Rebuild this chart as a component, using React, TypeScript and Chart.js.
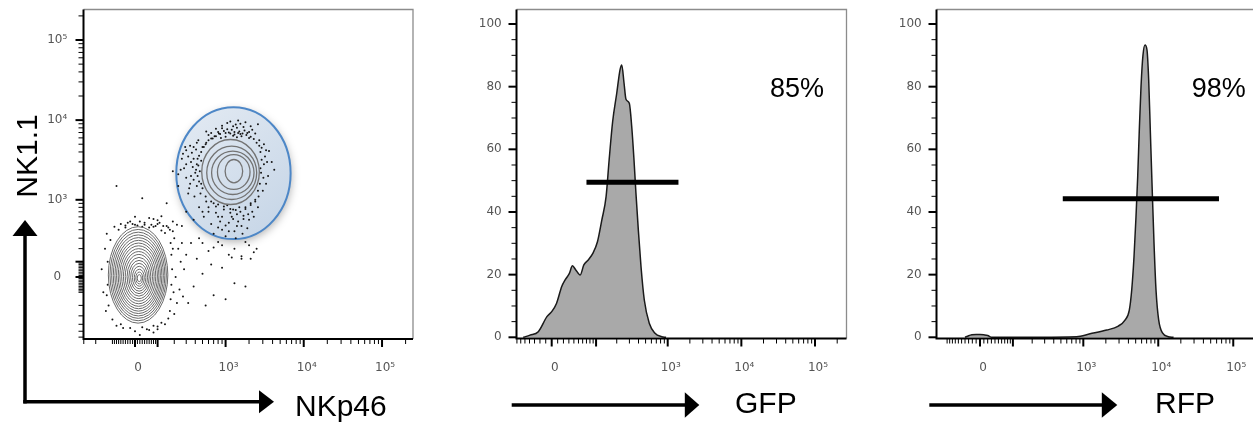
import { useEffect, useRef } from 'react';
import { Chart, registerables } from 'chart.js';
Chart.register(...registerables);

// ---------- display transform widths (biexponential-like axes) ----------
const W_NK_X = 140;
const W_NK_Y = 220;
const W_GFP = 53.3;
const W_RFP = 84;
const T = (v: number, w: number) => Math.asinh(v / w) / Math.LN10;

// ---------- tick values / labels ----------
const decadeValues = [0, 1000, 10000, 100000];
const decadeLabels = ['0', '10³', '10⁴', '10⁵'];
const minorTickValues = [
  -900, -800, -700, -600, -500, -400, -300, -200, -100,
  -90, -80, -70, -60, -50, -40, -30, -20, -10,
  10, 20, 30, 40, 50, 60, 70, 80, 90,
  100, 200, 300, 400, 500, 600, 700, 800, 900,
  2000, 3000, 4000, 5000, 6000, 7000, 8000, 9000,
  20000, 30000, 40000, 50000, 60000, 70000, 80000, 90000,
  200000,
];
const pctTickValues = [0, 5, 10, 15, 20, 25, 30, 35, 40, 45, 50, 55, 60, 65, 70, 75, 80, 85, 90, 95, 100];
const pctMajor = [0, 20, 40, 60, 80, 100];

// ---------- panel 1: NKp46 (x) vs NK1.1 (y) ----------
const nkGateX = [215, 6800];
const nkGateY = [290, 14500];
const nkPosCenter = [1210, 2245];
// contour rings: [half-width, half-height, dx, dy] in axis decades
const nkPosRings = [
  [0.368, 0.406, -0.019, 0.0],
  [0.319, 0.333, -0.004, -0.01],
  [0.271, 0.271, 0.01, -0.01],
  [0.208, 0.218, 0.022, 0.0],
  [0.112, 0.146, 0.024, 0.01],
];
const nkNegCenter = [16, 3];
const nkNegRings = [
  [0.380, 0.602, -0.010, 0.020],
  [0.360, 0.570, -0.009, 0.018],
  [0.340, 0.538, -0.008, 0.016],
  [0.320, 0.506, -0.007, 0.014],
  [0.300, 0.474, -0.006, 0.012],
  [0.280, 0.442, -0.005, 0.010],
  [0.260, 0.410, -0.004, 0.008],
  [0.240, 0.378, -0.003, 0.006],
  [0.218, 0.344, -0.002, 0.004],
  [0.196, 0.310, -0.001, 0.002],
  [0.174, 0.276, 0.000, 0.000],
  [0.152, 0.242, 0.001, -0.003],
  [0.130, 0.208, 0.002, -0.006],
  [0.108, 0.174, 0.003, -0.009],
  [0.086, 0.140, 0.004, -0.012],
  [0.064, 0.106, 0.005, -0.015],
  [0.044, 0.074, 0.005, -0.018],
  [0.026, 0.044, 0.005, -0.020],
];
const nkPosDots: [number, number][] = [
  [600, 6500], [750, 7800], [900, 8500], [1050, 9200], [1200, 7600], [1350, 8800], [1500, 7200], [1700, 8200],
  [1900, 6900], [2200, 7600], [820, 6800], [1000, 6200], [1300, 6600], [1600, 6300], [2000, 6000], [2400, 6800],
  [680, 5900], [1150, 9600], [1450, 9900], [950, 7300], [1800, 9400], [2600, 8900], [560, 7200], [1250, 6400],
  [1550, 6700], [870, 6000], [1100, 7000], [2100, 8400], [720, 6300], [1400, 6100],
  [750, 6300], [850, 6700], [1000, 6900], [1150, 6800], [1300, 7100], [1450, 6900], [1650, 6800], [1850, 6500],
  [2100, 6200], [2300, 5800], [2500, 5200], [800, 7100], [1050, 7700], [1400, 8000], [1750, 7400], [2000, 7100],
  [1250, 8400], [900, 7900], [650, 6900], [1550, 9000],
  [300, 4200], [350, 3000], [280, 2500], [420, 5200], [380, 1800], [330, 1400], [450, 3600], [500, 4600],
  [400, 2200], [470, 1200], [260, 3300], [360, 3900], [440, 2700], [300, 1900], [390, 1100], [550, 5000],
  [480, 3100], [230, 2100], [340, 4800], [420, 1500], [460, 2300], [410, 4300], [370, 2600], [480, 1600], [320, 3500],
  [480, 4000], [430, 3300], [420, 2800], [410, 2400], [430, 2000], [450, 1700], [500, 1400], [520, 4600],
  [560, 5200], [600, 5600], [650, 5900], [350, 2000], [300, 2800], [270, 3800], [380, 4600], [340, 1600],
  [250, 2400], [320, 1200], [380, 3300], [290, 4600], [440, 5600],
  [450, 800], [600, 700], [700, 900], [800, 600], [950, 750], [1100, 500], [1250, 750], [1400, 650],
  [1600, 450], [1800, 800], [2000, 550], [2200, 700], [900, 400], [650, 480], [1300, 380], [1150, 680],
  [750, 820], [1500, 800], [2400, 950], [560, 950], [1000, 320], [1700, 620], [850, 520], [1200, 600],
  [1900, 420], [700, 350], [1450, 520], [520, 600], [2100, 900], [1050, 850],
  [2400, 1000], [2100, 860], [1800, 760], [1550, 700], [1350, 740], [1150, 760], [950, 820], [800, 870],
  [650, 950], [550, 1100], [1700, 560], [1250, 560], [900, 600], [1400, 450], [1000, 460], [750, 680],
  [1950, 650], [2300, 600], [600, 800], [1100, 380], [1650, 350], [800, 430], [2600, 800], [1350, 300], [500, 700],
  [2900, 4500], [3200, 3500], [2800, 2500], [3500, 2000], [3000, 1300], [3900, 3000], [2700, 5600], [3300, 1600],
  [2650, 1100], [4200, 2400], [3100, 5000], [3600, 4100],
  [2700, 4800], [2800, 4000], [2900, 3200], [2850, 2200], [2750, 1600], [2600, 1300], [3100, 2800], [3300, 4200],
  [3050, 1900], [3400, 3000],
  [900, 230], [1300, 200], [700, 210], [1800, 260], [2500, 200], [500, 250], [1100, 150], [2100, 120], [1600, 140],
];
const nkNegDots: [number, number][] = [
  [-60, 480], [-20, 520], [10, 460], [40, 500], [70, 470], [100, 540], [130, 450], [160, 430], [-90, 440],
  [0, 600], [60, 580], [190, 520], [220, 470], [30, 440], [-40, 430], [120, 610], [90, 450],
  [150, 450], [170, 400], [110, 500], [80, 560], [-10, 480], [60, 430],
  [-70, 400], [-40, 460], [0, 470], [40, 470], [80, 440], [120, 390], [20, 520], [-30, 500], [100, 480], [140, 360],
  [200, 300], [230, 200], [250, 100], [210, 0], [240, -80], [220, -180], [200, -280], [260, 250],
  [280, 50], [190, 380], [270, -130], [300, 150],
  [175, 250], [180, 150], [185, 50], [180, -50], [175, -150], [170, -250], [160, -330], [190, 200], [195, -100],
  [-50, -450], [0, -500], [50, -470], [100, -430], [140, -400], [20, -560], [-80, -420], [80, -520],
  [-20, -450], [30, -440], [80, -420], [120, -380], [-60, -400], [60, -480], [-100, -340], [100, -470],
  [-140, 200], [-150, -100], [-135, -250], [-160, 50], [-130, 350],
  [-125, 100], [-125, -50], [-120, -200], [-110, 280], [-130, -120],
];
const nkSparseDots: [number, number][] = [
  [350, 250], [420, 120], [500, 20], [380, -60], [600, 180], [700, -120], [900, 60], [550, -200],
  [1300, -40], [800, 260], [1600, 120], [2000, 230], [450, 300], [650, 80], [1000, -150], [320, -180],
  [1200, 130], [1800, -60], [2300, 170], [-80, 1500], [30, 1050], [190, 2300], [230, 1500], [150, 900],
  [300, 700], [260, 450], [380, 550],
];

// ---------- panel 2: GFP histogram ----------
const gfpX = [-54, -39, -23, -8, 0, 8, 17, 23, 31, 37, 44, 54, 63, 75, 89, 105, 122, 141, 156, 175,
  200, 222, 235, 253, 269, 299, 323, 347, 369, 398, 433, 480, 561, 672, 829, 950];
const gfpY = [0, 0.7, 1.8, 6.6, 8.2, 10.8, 16.2, 18.3, 20.4, 22.8, 21.5, 19.9, 23.1, 24.7, 26.8, 30.5, 37.4, 44.9, 56.6, 68.8,
  77.9, 85.3, 86.9, 81.1, 76.0, 74.7, 67.2, 56.6, 46.0, 34.2, 22.5, 11.9, 4.5, 1.3, 0.2, 0];
const gfpGateX = [70, 1400];
const gfpGateY = 49.5;
const gfpPercent = '85%';

// ---------- panel 3: RFP histogram ----------
const rfpX = [-40, -30, -21, -10, 0, 10, 20, 31, 813, 1230, 2054, 2933, 3602, 4112, 4427, 4750, 5049, 5321, 5590, 5888,
  6258, 6657, 7077, 7456, 7831, 8252, 8778, 9333, 10140, 11460, 13620, 16000];
const rfpY = [0, 0.5, 0.8, 0.9, 0.9, 0.8, 0.6, 0, 0.2, 1.1, 2.3, 3.6, 5.5, 8.7, 15.1, 25.7, 38.5, 51.3, 66.2, 80,
  90.1, 93.3, 91.7, 82.1, 66.2, 49.2, 30, 15.1, 5.5, 1.3, 0.2, 0];
const rfpGateX = [530, 64500];
const rfpGateY = 44.2;
const rfpPercent = '98%';

// ---------- helpers ----------
type Tk = { value: number; label: string; mj: boolean };

function logTicks(w: number, lo: number, hi: number): Tk[] {
  const out: Tk[] = [];
  minorTickValues.forEach((v) => out.push({ value: T(v, w), label: '', mj: v === 100 }));
  decadeValues.forEach((v, i) => out.push({ value: T(v, w), label: decadeLabels[i], mj: true }));
  return out.filter((t) => t.value >= lo && t.value <= hi).sort((a, b) => a.value - b.value);
}
function pctTicks(lo: number, hi: number): Tk[] {
  return pctTickValues
    .map((v) => ({ value: v, label: pctMajor.includes(v) ? String(v) : '', mj: pctMajor.includes(v) }))
    .filter((t) => t.value >= lo && t.value <= hi);
}

const tickFont = { family: 'DejaVu Sans', size: 12 };

function makeOptions(p: any) {
  const cb = (_v: any, i: number, ts: any[]) => (ts[i] && ts[i].lab) || '';
  return {
    responsive: false,
    animation: false,
    events: [],
    layout: { padding: p.padding },
    plugins: { legend: { display: false }, tooltip: { enabled: false } },
    scales: {
      x: {
        type: 'linear',
        min: p.xMin,
        max: p.xMax,
        afterBuildTicks: (s: any) => { s.ticks = p.xTicks.map((t: Tk) => ({ value: t.value, lab: t.label })); },
        afterFit: (s: any) => { s.height = 50; s.paddingLeft = 0; s.paddingRight = 0; s.paddingTop = 0; s.paddingBottom = 0; },
        grid: { display: false, drawTicks: true, tickLength: 8 },
        border: { display: false },
        ticks: { autoSkip: false, maxRotation: 0, minRotation: 0, padding: p.xPad, labelOffset: 3, color: '#555', font: tickFont, callback: cb },
      },
      y: {
        type: 'linear',
        min: p.yMin,
        max: p.yMax,
        afterBuildTicks: (s: any) => { s.ticks = p.yTicks.map((t: Tk) => ({ value: t.value, lab: t.label })); },
        afterFit: (s: any) => { s.width = 70; s.paddingLeft = 0; s.paddingRight = 0; s.paddingTop = 0; s.paddingBottom = 0; },
        grid: { display: false, drawTicks: true, tickLength: 8 },
        border: { display: false },
        ticks: { autoSkip: false, padding: p.yPad, crossAlign: p.yCross, color: '#555', font: tickFont, callback: cb },
      },
    },
  };
}

function framePlugin(xTicks: Tk[], yTicks: Tk[]) {
  return {
    id: 'frame',
    afterDatasetsDraw(chart: any) {
      const { ctx, chartArea: a } = chart;
      const xs = chart.scales.x;
      const ys = chart.scales.y;
      ctx.save();
      ctx.strokeStyle = '#8c8c8c';
      ctx.lineWidth = 1.3;
      ctx.beginPath();
      ctx.moveTo(a.left, a.top);
      ctx.lineTo(a.right, a.top);
      ctx.lineTo(a.right, a.bottom);
      ctx.stroke();
      ctx.strokeStyle = '#000';
      ctx.lineWidth = 2;
      ctx.beginPath();
      ctx.moveTo(a.left, a.top);
      ctx.lineTo(a.left, a.bottom);
      ctx.lineTo(a.right, a.bottom);
      ctx.stroke();
      xTicks.forEach((t) => {
        const p = xs.getPixelForValue(t.value);
        ctx.lineWidth = t.mj ? 2 : 1;
        ctx.beginPath();
        ctx.moveTo(p, a.bottom);
        ctx.lineTo(p, a.bottom + (t.mj ? 8 : 5));
        ctx.stroke();
      });
      yTicks.forEach((t) => {
        const p = ys.getPixelForValue(t.value);
        ctx.lineWidth = t.mj ? 2 : 1;
        ctx.beginPath();
        ctx.moveTo(a.left, p);
        ctx.lineTo(a.left - (t.mj ? 8 : 5), p);
        ctx.stroke();
      });
      ctx.restore();
    },
  };
}

function hArrow(ctx: any, x0: number, tipX: number, y: number, headLen: number, half: number) {
  ctx.fillStyle = '#000';
  ctx.strokeStyle = '#000';
  ctx.lineWidth = 3.5;
  ctx.beginPath();
  ctx.moveTo(x0, y);
  ctx.lineTo(tipX - headLen + 1, y);
  ctx.stroke();
  ctx.beginPath();
  ctx.moveTo(tipX - headLen, y - half);
  ctx.lineTo(tipX, y);
  ctx.lineTo(tipX - headLen, y + half);
  ctx.closePath();
  ctx.fill();
}
function vArrow(ctx: any, x: number, y0: number, tipY: number, headLen: number, half: number) {
  ctx.fillStyle = '#000';
  ctx.strokeStyle = '#000';
  ctx.lineWidth = 3.5;
  ctx.beginPath();
  ctx.moveTo(x, y0);
  ctx.lineTo(x, tipY + headLen - 1);
  ctx.stroke();
  ctx.beginPath();
  ctx.moveTo(x - half, tipY + headLen);
  ctx.lineTo(x, tipY);
  ctx.lineTo(x + half, tipY + headLen);
  ctx.closePath();
  ctx.fill();
}
function annotPlugin(draw: (ctx: any) => void) {
  return {
    id: 'annot',
    afterDraw(chart: any) {
      const ctx = chart.ctx;
      ctx.save();
      draw(ctx);
      ctx.restore();
    },
  };
}

const dotsDataset = (pts: [number, number][]) => ({
  data: pts.map(([a, b]) => ({ x: T(a, W_NK_X), y: T(b, W_NK_Y) })),
  pointRadius: 1,
  pointBackgroundColor: '#151515',
  pointBorderWidth: 0,
  showLine: false,
});

// ---------- chart configs ----------
function config1(): any {
  const xMin = -0.6577, xMax = 3.5504, yMin = -0.774, yMax = 3.3396;
  const xTicks = logTicks(W_NK_X, xMin, xMax);
  const yTicks = logTicks(W_NK_Y, yMin, yMax);
  const opts = makeOptions({
    xMin, xMax, yMin, yMax, xTicks, yTicks,
    padding: { left: 13.5, top: 9.5, right: 12, bottom: 37 },
    xPad: 14, yPad: 8.25, yCross: 'center',
  });
  const gatePlugin = {
    id: 'gate',
    beforeDatasetsDraw(chart: any) {
      const { ctx } = chart;
      const xs = chart.scales.x, ys = chart.scales.y;
      const x1 = xs.getPixelForValue(T(nkGateX[0], W_NK_X));
      const x2 = xs.getPixelForValue(T(nkGateX[1], W_NK_X));
      const y1 = ys.getPixelForValue(T(nkGateY[1], W_NK_Y));
      const y2 = ys.getPixelForValue(T(nkGateY[0], W_NK_Y));
      const cx = (x1 + x2) / 2, cy = (y1 + y2) / 2, rx = (x2 - x1) / 2, ry = (y2 - y1) / 2;
      ctx.save();
      ctx.shadowColor = 'rgba(0,0,0,0.3)';
      ctx.shadowBlur = 8;
      ctx.shadowOffsetX = 1;
      ctx.shadowOffsetY = 3;
      const g = ctx.createLinearGradient(cx - rx, cy - ry, cx + rx, cy + ry);
      g.addColorStop(0, '#e4ebf3');
      g.addColorStop(1, '#c4d4e6');
      ctx.fillStyle = g;
      ctx.beginPath();
      ctx.ellipse(cx, cy, rx, ry, 0, 0, Math.PI * 2);
      ctx.fill();
      ctx.shadowColor = 'transparent';
      ctx.strokeStyle = '#4d87c7';
      ctx.lineWidth = 2;
      ctx.stroke();
      ctx.restore();
    },
    afterDatasetsDraw(chart: any) {
      const { ctx } = chart;
      const xs = chart.scales.x, ys = chart.scales.y;
      const rings = (center: number[], list: number[][], color: string, lw: number) => {
        const cxU = T(center[0], W_NK_X), cyU = T(center[1], W_NK_Y);
        ctx.strokeStyle = color;
        ctx.lineWidth = lw;
        list.forEach(([rx, ry, dx, dy]) => {
          const px = xs.getPixelForValue(cxU + dx);
          const py = ys.getPixelForValue(cyU + dy);
          const prx = xs.getPixelForValue(cxU + dx + rx) - px;
          const pry = py - ys.getPixelForValue(cyU + dy + ry);
          ctx.beginPath();
          ctx.ellipse(px, py, prx, pry, 0, 0, Math.PI * 2);
          ctx.stroke();
        });
      };
      ctx.save();
      rings(nkNegCenter, nkNegRings, '#6a6a6a', 1);
      rings(nkPosCenter, nkPosRings, '#737373', 1.3);
      ctx.restore();
    },
  };
  const annot = annotPlugin((ctx) => {
    vArrow(ctx, 25, 403.45, 220, 16, 12.5);
    hArrow(ctx, 23.25, 274, 401.7, 15, 11.5);
    ctx.fillStyle = '#000';
    ctx.font = '30px "Liberation Sans"';
    ctx.textBaseline = 'alphabetic';
    ctx.textAlign = 'left';
    ctx.fillText('NKp46', 295, 416);
    ctx.save();
    ctx.translate(37, 156);
    ctx.rotate(-Math.PI / 2);
    ctx.textAlign = 'center';
    ctx.fillText('NK1.1', 0, 0);
    ctx.restore();
  });
  return {
    type: 'scatter',
    data: { datasets: [dotsDataset(nkPosDots), dotsDataset(nkNegDots), dotsDataset(nkSparseDots)] },
    options: opts,
    plugins: [gatePlugin, framePlugin(xTicks, yTicks), annot],
  };
}

function histConfig(p: any): any {
  const yMin = -0.383, yMax = 104.63;
  const xTicks = logTicks(p.w, p.xMin, p.xMax);
  const yTicks = pctTicks(yMin, yMax);
  const opts = makeOptions({
    xMin: p.xMin, xMax: p.xMax, yMin, yMax, xTicks, yTicks,
    padding: p.padding, xPad: 14.3, yPad: 6.8, yCross: 'near',
  });
  const annot = annotPlugin((ctx) => {
    hArrow(ctx, p.arrow[0], p.arrow[1], 405, p.arrow[2], 12.8);
    ctx.fillStyle = '#000';
    ctx.textBaseline = 'alphabetic';
    ctx.textAlign = 'left';
    ctx.font = '30px "Liberation Sans"';
    ctx.fillText(p.axisLabel, p.labelX, 413.3);
    ctx.font = '27px "Liberation Sans"';
    ctx.fillText(p.percent, p.pctX, 96.7);
  });
  return {
    type: 'line',
    data: {
      datasets: [
        {
          data: [{ x: T(p.gateX[0], p.w), y: p.gateY }, { x: T(p.gateX[1], p.w), y: p.gateY }],
          borderColor: '#000',
          borderWidth: 5,
          pointRadius: 0,
          fill: false,
          borderCapStyle: 'butt',
        },
        {
          data: p.xs.map((v: number, i: number) => ({ x: T(v, p.w), y: p.ys[i] })),
          borderColor: '#1a1a1a',
          borderWidth: 1.5,
          backgroundColor: '#a9a9a9',
          fill: 'origin',
          pointRadius: 0,
          cubicInterpolationMode: 'monotone',
        },
      ],
    },
    options: opts,
    plugins: [framePlugin(xTicks, yTicks), annot],
  };
}

export default function App() {
  const r1 = useRef<HTMLCanvasElement>(null);
  const r2 = useRef<HTMLCanvasElement>(null);
  const r3 = useRef<HTMLCanvasElement>(null);
  useEffect(() => {
    const charts = [
      new Chart(r1.current as any, config1()),
      new Chart(r2.current as any, histConfig({
        w: W_GFP, xMin: -0.4778, xMax: 4.0016, xs: gfpX, ys: gfpY, gateX: gfpGateX, gateY: gfpGateY,
        padding: { left: 21.5, top: 9.5, right: 3.5, bottom: 37.5 },
        arrow: [86.7, 274.3, 14.5], axisLabel: 'GFP', labelX: 310, percent: gfpPercent, pctX: 345,
      })),
      new Chart(r3.current as any, histConfig({
        w: W_RFP, xMin: -0.58, xMax: 3.82, xs: rfpX, ys: rfpY, gateX: rfpGateX, gateY: rfpGateY,
        padding: { left: 16.5, top: 9.5, right: 13.5, bottom: 37.5 },
        arrow: [79.3, 267.3, 15.5], axisLabel: 'RFP', labelX: 305, percent: rfpPercent, pctX: 341.7,
      })),
    ];
    return () => charts.forEach((c) => c.destroy());
  }, []);
  return (
    <div style={{ position: 'absolute', left: 0, top: 0, width: 1253, height: 426, overflow: 'hidden', background: '#fff' }}>
      <canvas ref={r1} width={425} height={426} style={{ position: 'absolute', left: 0, top: 0 }} />
      <canvas ref={r2} width={425} height={426} style={{ position: 'absolute', left: 425, top: 0 }} />
      <canvas ref={r3} width={430} height={426} style={{ position: 'absolute', left: 850, top: 0 }} />
    </div>
  );
}
